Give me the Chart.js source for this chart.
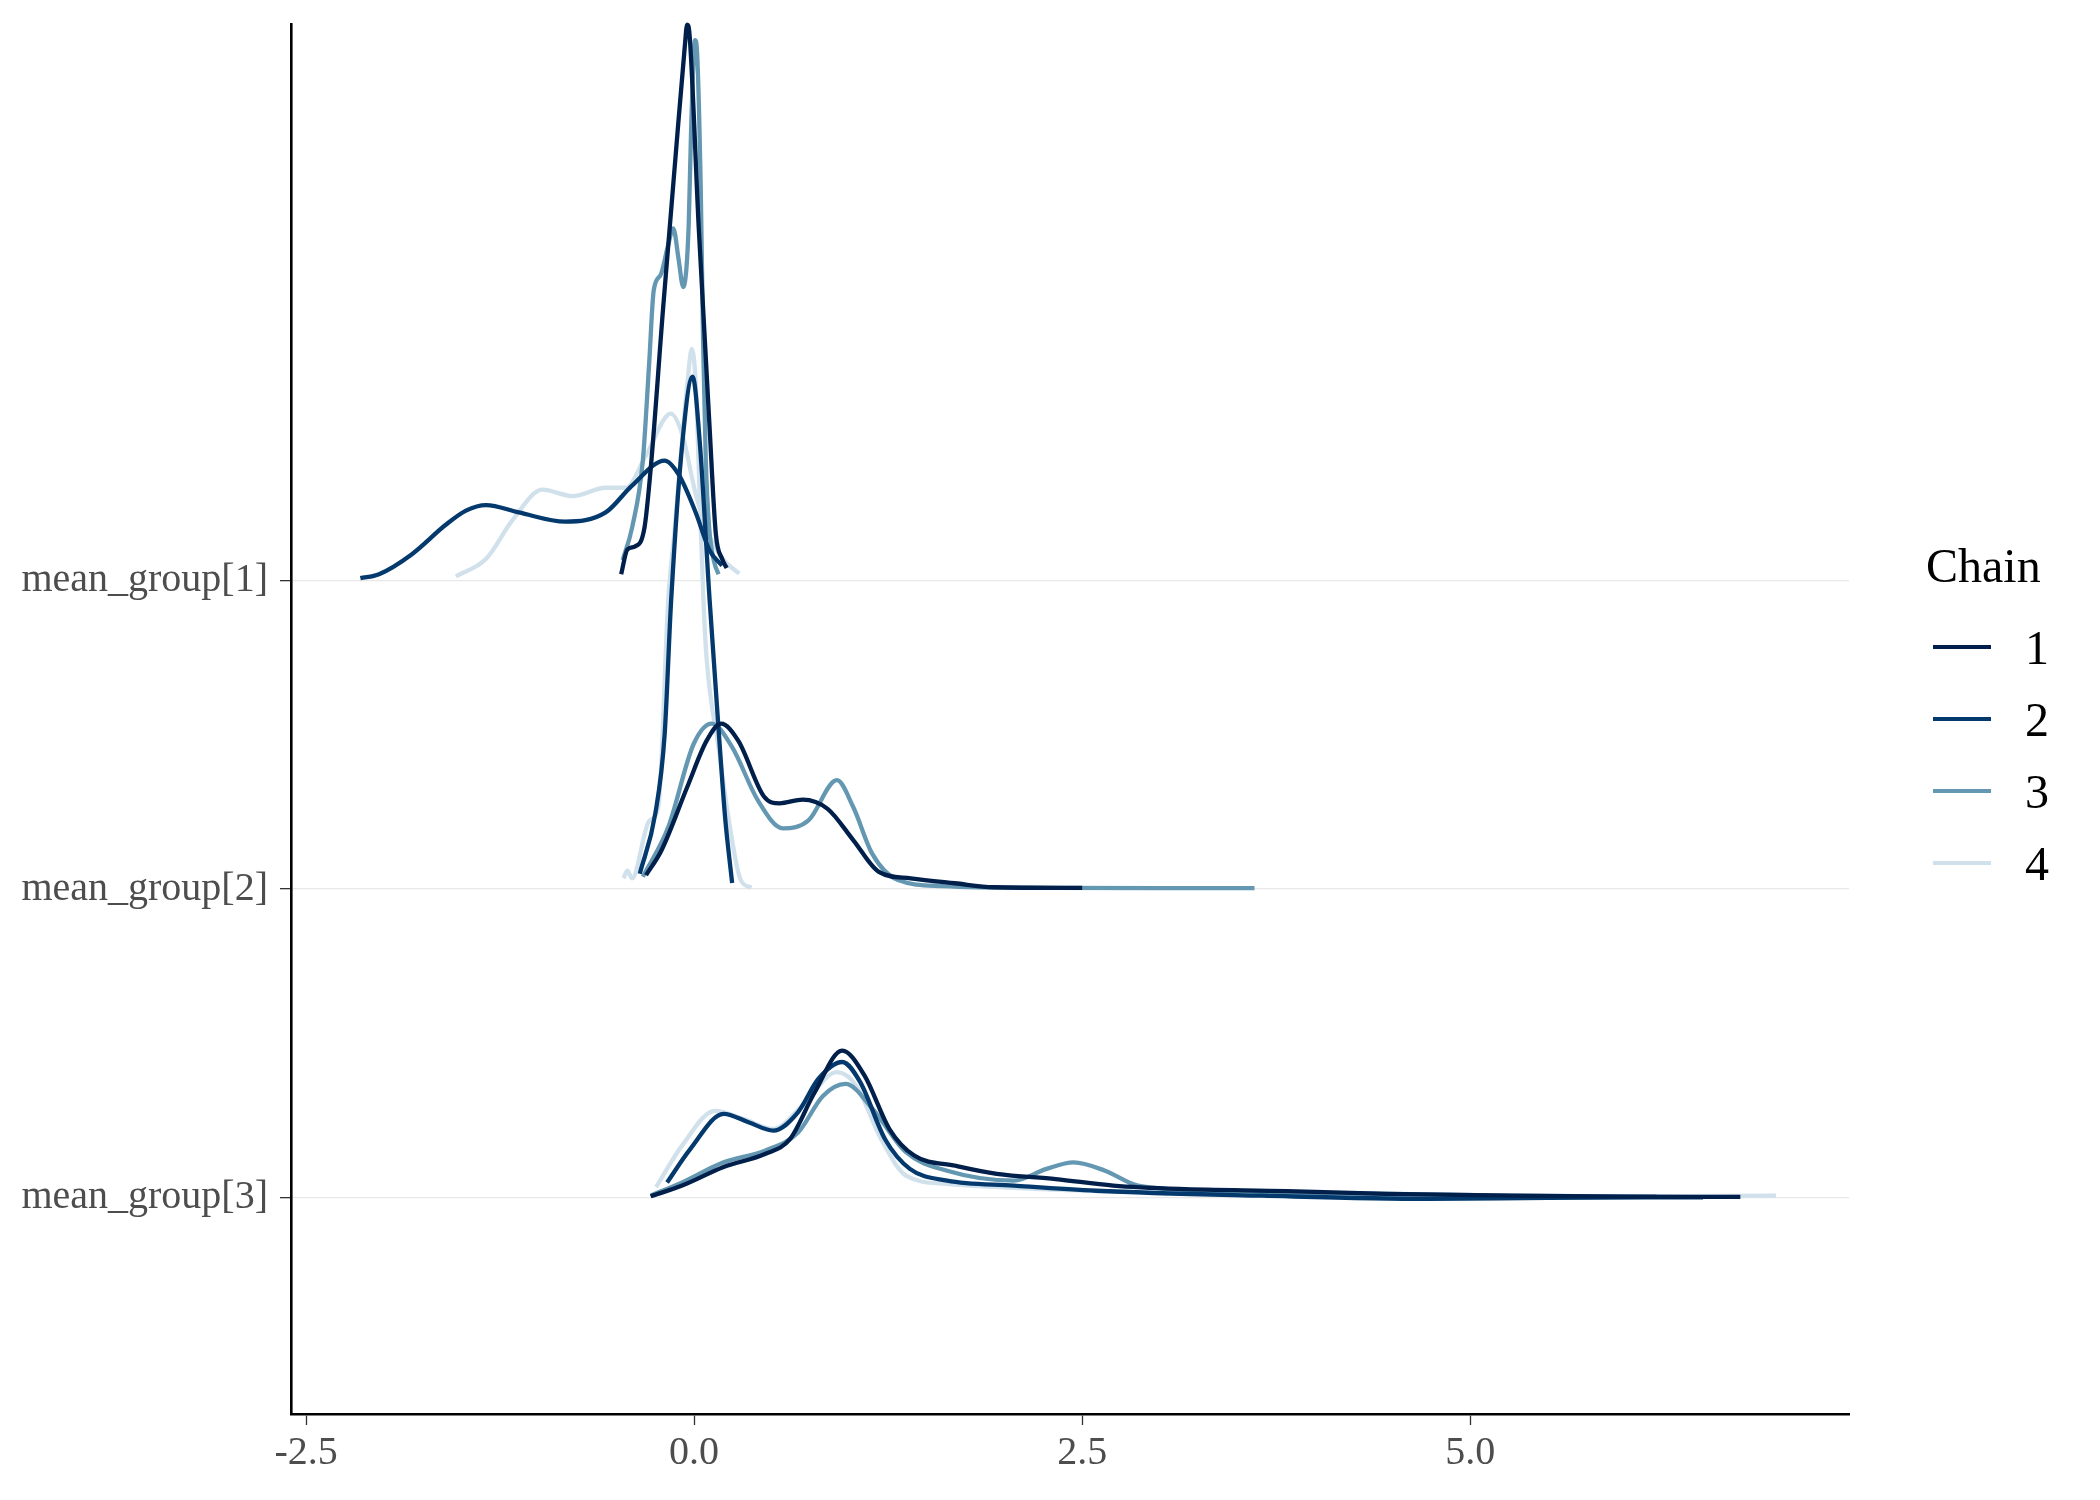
<!DOCTYPE html>
<html>
<head>
<meta charset="utf-8">
<script src="https://cdn.jsdelivr.net/npm/chart.js@4/dist/chart.umd.min.js"></script>
<style>
html,body{margin:0;padding:0;background:#fff;}
canvas{display:block;}
</style>
</head>
<body>
<canvas id="c" width="2100" height="1500"></canvas>
<script>
// ---- categories / ticks ----
const groupLabels = ["mean_group[1]", "mean_group[2]", "mean_group[3]"];
const groupBase = [3, 2, 1];
const chainNames = ["1", "2", "3", "4"];
const chainColors = ["#011f4b", "#03396c", "#6497b1", "#d1e1ec"];
const xTicks = [-2.5, 0, 2.5, 5];
const xTickLabels = ["-2.5", "0.0", "2.5", "5.0"];

// ---- mean_group[1] densities ----
const g1c1_x = [-0.47, -0.43, -0.38, -0.32, -0.28, -0.2, -0.12, -0.06, -0.045, -0.03, 0.03, 0.097, 0.14, 0.18, 0.21];
const g1c1_d = [0.02, 0.10, 0.11, 0.17, 0.36, 0.88, 1.37, 1.73, 1.80, 1.77, 1.14, 0.52, 0.15, 0.07, 0.04];
const g1c2_x = [-2.15, -2.03, -1.82, -1.60, -1.47, -1.34, -1.13, -0.83, -0.57, -0.40, -0.19, -0.10, 0.01, 0.10, 0.18];
const g1c2_d = [0.007, 0.02, 0.084, 0.18, 0.226, 0.244, 0.22, 0.19, 0.22, 0.307, 0.388, 0.343, 0.22, 0.097, 0.048];
const g1c3_x = [-0.46, -0.40, -0.33, -0.29, -0.26, -0.215, -0.17, -0.134, -0.10, -0.07, -0.035, -0.02, 0.006, 0.02, 0.043, 0.058, 0.075, 0.097, 0.129, 0.157];
const g1c3_d = [0.066, 0.17, 0.39, 0.70, 0.94, 0.99, 1.08, 1.14, 1.04, 0.95, 1.15, 1.45, 1.75, 1.70, 1.26, 0.77, 0.39, 0.17, 0.06, 0.02];
const g1c4_x = [-1.535, -1.34, -1.17, -0.977, -0.784, -0.57, -0.44, -0.31, -0.15, -0.075, 0.01, 0.097, 0.18, 0.29];
const g1c4_d = [0.013, 0.07, 0.195, 0.294, 0.273, 0.30, 0.30, 0.405, 0.54, 0.47, 0.28, 0.146, 0.072, 0.022];

// ---- mean_group[2] densities ----
const g2c1_x = [-0.31, -0.21, -0.045, 0.08, 0.174, 0.285, 0.45, 0.55, 0.70, 0.86, 1.025, 1.19, 1.395, 1.68, 1.93, 2.5];
const g2c1_d = [0.045, 0.126, 0.33, 0.48, 0.536, 0.48, 0.30, 0.278, 0.29, 0.26, 0.159, 0.056, 0.035, 0.019, 0.006, 0.004];
const g2c2_x = [-0.35, -0.25, -0.19, -0.148, -0.075, -0.01, 0.036, 0.10, 0.16, 0.20, 0.245];
const g2c2_d = [0.05, 0.245, 0.50, 0.935, 1.45, 1.66, 1.45, 0.935, 0.50, 0.23, 0.02];
const g2c3_x = [-0.33, -0.167, -0.003, 0.114, 0.245, 0.41, 0.572, 0.737, 0.92, 1.025, 1.147, 1.31, 1.60, 2.31, 3.0, 3.61];
const g2c3_d = [0.04, 0.2, 0.47, 0.536, 0.46, 0.288, 0.197, 0.223, 0.353, 0.266, 0.115, 0.03, 0.01, 0.004, 0.003, 0.003];
const g2c4_x = [-0.455, -0.43, -0.40, -0.29, -0.23, -0.167, -0.13, -0.043, -0.015, 0.01, 0.036, 0.06, 0.08, 0.16, 0.22, 0.30, 0.37];
const g2c4_d = [0.035, 0.06, 0.035, 0.22, 0.27, 0.935, 1.14, 1.64, 1.75, 1.64, 1.27, 0.935, 0.75, 0.45, 0.235, 0.03, 0.005];

// ---- mean_group[3] densities ----
const g3c1_x = [-0.28, -0.077, 0.19, 0.456, 0.617, 0.777, 0.954, 1.098, 1.258, 1.418, 1.685, 1.95, 2.33, 2.70, 3.125, 3.82, 4.46, 5.26, 6.0, 6.74];
const g3c1_d = [0.005, 0.04, 0.1, 0.142, 0.19, 0.342, 0.477, 0.396, 0.223, 0.137, 0.104, 0.078, 0.061, 0.04, 0.029, 0.022, 0.013, 0.007, 0.004, 0.003];
const g3c2_x = [-0.174, -0.025, 0.19, 0.35, 0.51, 0.67, 0.80, 0.954, 1.07, 1.23, 1.39, 1.63, 2.06, 2.59, 3.66, 4.73, 5.5, 6.5];
const g3c2_d = [0.05, 0.158, 0.272, 0.245, 0.218, 0.278, 0.385, 0.44, 0.375, 0.19, 0.094, 0.056, 0.04, 0.023, 0.007, -0.003, 0.0, 0.002];
const g3c3_x = [-0.28, -0.077, 0.19, 0.456, 0.67, 0.83, 0.975, 1.15, 1.365, 1.63, 2.06, 2.27, 2.445, 2.647, 2.86, 3.395, 4.19, 5.26, 6.2];
const g3c3_d = [0.007, 0.05, 0.115, 0.153, 0.212, 0.33, 0.369, 0.288, 0.148, 0.088, 0.056, 0.094, 0.115, 0.088, 0.04, 0.023, 0.015, 0.007, 0.004];
const g3c4_x = [-0.245, -0.077, 0.135, 0.322, 0.51, 0.696, 0.92, 1.043, 1.205, 1.365, 1.63, 2.33, 3.125, 4.19, 5.26, 6.97];
const g3c4_d = [0.035, 0.17, 0.282, 0.255, 0.223, 0.298, 0.407, 0.364, 0.19, 0.072, 0.045, 0.027, 0.016, 0.007, 0.003, 0.007];

const series = [
  [[g1c1_x, g1c1_d], [g1c2_x, g1c2_d], [g1c3_x, g1c3_d], [g1c4_x, g1c4_d]],
  [[g2c1_x, g2c1_d], [g2c2_x, g2c2_d], [g2c3_x, g2c3_d], [g2c4_x, g2c4_d]],
  [[g3c1_x, g3c1_d], [g3c2_x, g3c2_d], [g3c3_x, g3c3_d], [g3c4_x, g3c4_d]]
];

const datasets = [];
for (let c = 0; c < 4; c++) {
  for (let g = 0; g < 3; g++) {
    const [xs, ds] = series[g][c];
    datasets.push({
      label: groupLabels[g] + " chain " + chainNames[c],
      data: xs.map((x, i) => ({ x: x, y: groupBase[g] + ds[i] })),
      showLine: true,
      borderColor: chainColors[c],
      backgroundColor: chainColors[c],
      borderWidth: 4.3,
      pointRadius: 0,
      fill: false,
      cubicInterpolationMode: 'monotone',
      clip: false
    });
  }
}

const FONT = "'Liberation Serif', 'Times New Roman', serif";

const legendPlugin = {
  id: 'chainLegend',
  afterDraw(chart) {
    const ctx = chart.ctx;
    ctx.save();
    ctx.fillStyle = '#000';
    ctx.font = "48px " + FONT;
    ctx.textAlign = 'left';
    ctx.textBaseline = 'alphabetic';
    ctx.fillText("Chain", 1926, 582);
    const ys = [647, 719, 791, 863];
    for (let i = 0; i < chainNames.length; i++) {
      ctx.strokeStyle = chainColors[i];
      ctx.lineWidth = 4;
      ctx.beginPath();
      ctx.moveTo(1933, ys[i]);
      ctx.lineTo(1991, ys[i]);
      ctx.stroke();
      ctx.fillStyle = '#000';
      ctx.fillText(chainNames[i], 2025, ys[i] + 17);
    }
    ctx.restore();
  }
};

new Chart(document.getElementById('c').getContext('2d'), {
  type: 'scatter',
  data: { datasets: datasets },
  plugins: [legendPlugin],
  options: {
    responsive: false,
    animation: false,
    layout: { padding: { top: 24, right: 251, left: 0, bottom: 0 } },
    plugins: { legend: { display: false }, tooltip: { enabled: false } },
    scales: {
      x: {
        type: 'linear', min: -2.597, max: 7.44,
        afterBuildTicks: s => { s.ticks = xTicks.map(v => ({ value: v })); },
        ticks: {
          callback: (v, i) => xTickLabels[i],
          font: { family: FONT, size: 40 },
          color: '#4d4d4d', padding: 4, maxRotation: 0, autoSkip: false
        },
        grid: { drawOnChartArea: false, drawTicks: true, tickLength: 11, tickColor: '#333333', tickWidth: 1.3 },
        border: { display: true, color: '#000000', width: 2.6 },
        afterFit: s => { s.height = 86; s.paddingLeft = 0; s.paddingRight = 0; }
      },
      y: {
        type: 'linear', min: 0.3, max: 4.802,
        afterBuildTicks: s => { s.ticks = groupBase.map(v => ({ value: v })); },
        ticks: {
          callback: (v, i) => { const k = groupBase.indexOf(v); return groupLabels[k]; },
          font: { family: FONT, size: 40 },
          color: '#4d4d4d', padding: 12, autoSkip: false
        },
        grid: { color: '#e8e8e8', lineWidth: 1.3, drawTicks: true, tickLength: 11, tickColor: '#333333', tickWidth: 1.3 },
        border: { display: true, color: '#000000', width: 2.6 },
        afterFit: s => { s.width = 291; s.paddingTop = 0; s.paddingBottom = 0; }
      }
    }
  }
});
</script>
</body>
</html>
